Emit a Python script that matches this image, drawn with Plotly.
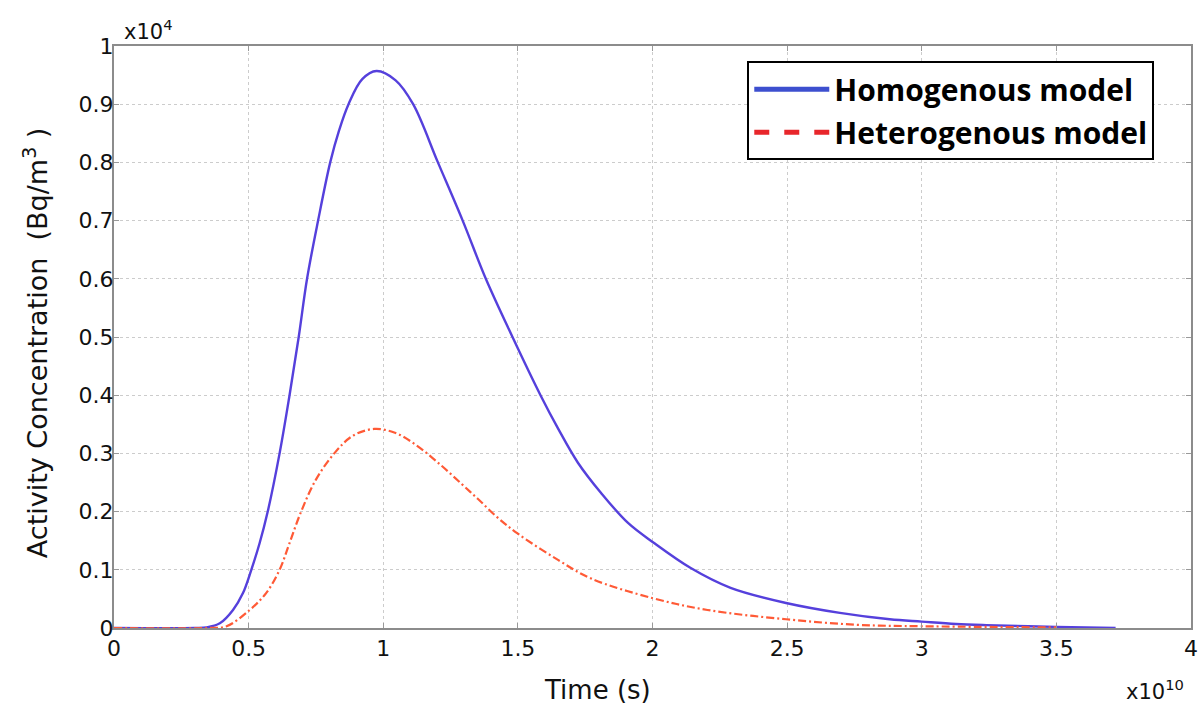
import plotly.graph_objects as go

# Time in units of 1e10 s, concentration in units of 1e4 Bq/m^3
homo_time = [0.0, 0.30, 0.344, 0.393, 0.442, 0.479, 0.510, 0.541, 0.571, 0.615, 0.652,
             0.686, 0.717, 0.758, 0.803, 0.836, 0.871, 0.922, 0.975, 1.046, 1.111,
             1.203, 1.295, 1.381, 1.480, 1.584, 1.649, 1.723, 1.809, 1.908, 2.003,
             2.142, 2.290, 2.496, 2.696, 2.881, 3.0, 3.127, 3.24, 3.5, 3.72]
homo_conc = [0.0, 0.0, 0.001, 0.008, 0.031, 0.060, 0.10, 0.146, 0.20, 0.30, 0.40,
             0.50, 0.60, 0.70, 0.80, 0.855, 0.90, 0.943, 0.957, 0.941, 0.90,
             0.80, 0.70, 0.60, 0.50, 0.40, 0.343, 0.284, 0.232, 0.181, 0.147,
             0.103, 0.069, 0.043, 0.026, 0.015, 0.011, 0.007, 0.005, 0.002, 0.0]

hetero_time = [0.0, 0.35, 0.418, 0.504, 0.565, 0.615, 0.652, 0.695, 0.750, 0.818, 0.886,
               0.966, 1.046, 1.12, 1.206, 1.29, 1.351, 1.424, 1.5, 1.649, 1.772,
               2.003, 2.204, 2.496, 2.758, 3.0, 3.5]
hetero_conc = [0.0, 0.0, 0.003, 0.031, 0.06, 0.10, 0.146, 0.20, 0.255, 0.30, 0.330,
               0.342, 0.335, 0.315, 0.283, 0.248, 0.222, 0.19, 0.162, 0.117, 0.085,
               0.051, 0.031, 0.015, 0.0055, 0.003, 0.001]

series_names = ["Homogenous model", "Heterogenous model"]
x_title = "Time (s)"
y_title = "Activity Concentration  (Bq/m<sup>3</sup> )"
x_ticks = [0, 0.5, 1, 1.5, 2, 2.5, 3, 3.5, 4]
x_tick_text = ["0", "0.5", "1", "1.5", "2", "2.5", "3", "3.5", "4"]
y_ticks = [0, 0.1, 0.2, 0.3, 0.4, 0.5, 0.6, 0.7, 0.8, 0.9, 1]
y_tick_text = ["0", "0.1", "0.2", "0.3", "0.4", "0.5", "0.6", "0.7", "0.8", "0.9", "1"]

TXT = "#111111"
fig = go.Figure()
fig.add_trace(go.Scatter(x=homo_time, y=homo_conc, mode="lines", showlegend=False,
                         line=dict(color="#5540dc", width=2.4, shape="spline", smoothing=1.0)))
fig.add_trace(go.Scatter(x=hetero_time, y=hetero_conc, mode="lines", showlegend=False,
                         line=dict(color="#ff5a36", width=2.2, dash="8px,3px,2px,3px",
                                   shape="spline", smoothing=1.0)))
# legend entries
fig.add_trace(go.Scatter(x=[None], y=[None], mode="lines", name=series_names[0],
                         legendgroup="a", line=dict(color="#3d4fcf", width=5)))
fig.add_trace(go.Scatter(x=[None], y=[None], mode="lines", name=series_names[1],
                         legendgroup="b", line=dict(color="#e8262b", width=5, dash="dash")))

axis_common = dict(showline=True, linecolor="#8c8c8c", linewidth=2, mirror="ticks",
                   ticks="inside", ticklen=5, tickcolor="#999999",
                   showgrid=True, gridcolor="#cccccc", gridwidth=1, griddash="dot",
                   zeroline=False, automargin=False, ticklabeloverflow="allow",
                   tickfont=dict(family="DejaVu Sans", size=22, color=TXT))

fig.update_xaxes(range=[0, 4], tickvals=x_ticks, ticktext=x_tick_text, **axis_common)
fig.update_yaxes(range=[0, 1], tickvals=y_ticks, ticktext=y_tick_text,
                 ticklabelstandoff=-6, **axis_common)

fig.add_annotation(text=x_title, xref="paper", yref="paper", x=0.449, y=-0.1065,
                   xanchor="center", yanchor="middle", showarrow=False,
                   font=dict(family="DejaVu Sans", size=26, color=TXT))
fig.add_annotation(text=y_title, xref="paper", yref="paper", x=-0.073, y=0.49,
                   xanchor="center", yanchor="middle", showarrow=False, textangle=-90,
                   font=dict(family="DejaVu Sans", size=27, color=TXT))
fig.add_annotation(text="x10<sup>4</sup>", xref="paper", yref="paper", x=0.007, y=1.0,
                   xanchor="left", yanchor="bottom", showarrow=False,
                   font=dict(family="DejaVu Sans", size=21, color=TXT))
fig.add_annotation(text="x10<sup>10</sup>", xref="paper", yref="paper", x=0.995, y=-0.134,
                   xanchor="right", yanchor="bottom", showarrow=False,
                   font=dict(family="DejaVu Sans", size=21, color=TXT))

fig.update_layout(
    width=1200, height=714,
    margin=dict(l=114, r=9, t=46, b=86),
    paper_bgcolor="white", plot_bgcolor="white",
    legend=dict(x=0.588, y=0.974, xanchor="left", yanchor="top",
                bordercolor="black", borderwidth=2, bgcolor="white",
                font=dict(family="Open Sans", size=30, color="black", weight="bold"),
                tracegroupgap=1, itemwidth=75),
)

fig.write_html("out.html", config={"displayModeBar": False},
               post_script="document.body.style.margin='0';document.body.style.overflow='hidden';")
